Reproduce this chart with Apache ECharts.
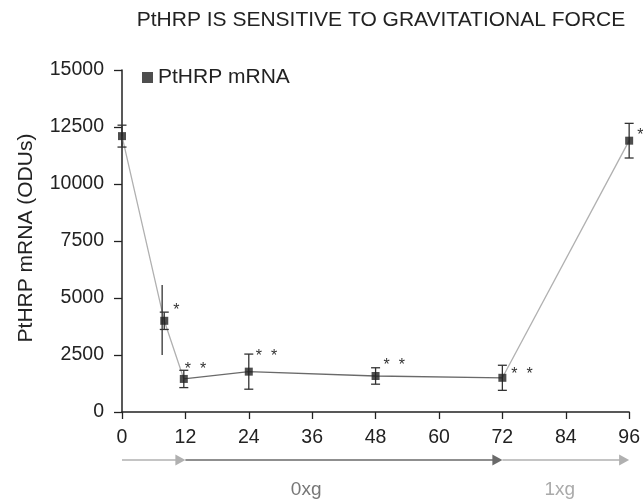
<!DOCTYPE html>
<html><head><meta charset="utf-8">
<script src="https://cdn.jsdelivr.net/npm/echarts@6/dist/echarts.min.js"></script>
<style>html,body{margin:0;padding:0;background:#fff}#c{width:643px;height:504px}</style>
</head><body><div id="c"></div>
<script>
// ---- data ----
var hours  = [0, 8, 11.7, 24, 48, 72, 96];
var values = [12100, 4000, 1450, 1770, 1580, 1500, 11900];
var errors = [480, 380, 380, 770, 360, 550, 760];
var stars  = ['', '*', '*  *', '*  *', '*  *', '*  *', '*'];
var extraBar = [7.6, 2500, 5570]; // hour, low, high (uncapped bar)
var xTicks = [0, 12, 24, 36, 48, 60, 72, 84, 96];
var yTicks = [0, 2500, 5000, 7500, 10000, 12500, 15000];
var phaseSegments = [[0, 12, 'light'], [12, 72, 'dark'], [72, 96, 'light']];
var phaseLabels = [[36, '0xg', 'dark'], [84, '1xg', 'light']];
var lineSegments = [[0, 2, 'light'], [2, 5, 'dark'], [5, 6, 'light']];

// ---- styling ----
var COL = {light: '#b0b0b0', dark: '#6a6a6a'};
var starOffsets = [[0,0],[9,-10],[1,-9],[7,-15],[8,-10],[9,-3],[8,-5]];
var FONT = 'Liberation Sans, Arial, sans-serif';

var pts = hours.map(function (h, i) { return [h, values[i]]; });

var series = [];
lineSegments.forEach(function (s) {
  series.push({
    type: 'line', data: pts.slice(s[0], s[1] + 1), symbol: 'none', silent: true,
    lineStyle: {color: COL[s[2]], width: 1.3}, z: 2
  });
});
series.push({
  type: 'custom', z: 3, silent: true,
  data: hours.map(function (h, i) { return [h, values[i] - errors[i], values[i] + errors[i]]; }),
  renderItem: function (params, api) {
    var lo = api.coord([api.value(0), api.value(1)]);
    var hi = api.coord([api.value(0), api.value(2)]);
    var w = 4.5, st = {stroke: '#333', lineWidth: 1.3};
    return {type: 'group', children: [
      {type: 'line', shape: {x1: lo[0], y1: lo[1], x2: hi[0], y2: hi[1]}, style: st},
      {type: 'line', shape: {x1: lo[0] - w, y1: lo[1], x2: lo[0] + w, y2: lo[1]}, style: st},
      {type: 'line', shape: {x1: hi[0] - w, y1: hi[1], x2: hi[0] + w, y2: hi[1]}, style: st}
    ]};
  }
});
series.push({
  type: 'custom', z: 3, silent: true, data: [extraBar],
  renderItem: function (params, api) {
    var lo = api.coord([api.value(0), api.value(1)]);
    var hi = api.coord([api.value(0), api.value(2)]);
    return {type: 'line', shape: {x1: lo[0], y1: lo[1], x2: hi[0], y2: hi[1]}, style: {stroke: '#333', lineWidth: 1.3}};
  }
});
series.push({
  name: 'PtHRP mRNA', type: 'scatter', symbol: 'rect', symbolSize: 8, z: 4,
  itemStyle: {color: '#222'}, data: pts
});
// significance asterisks
series.push({
  type: 'custom', z: 5, silent: true,
  data: pts.map(function (p, i) { return [p[0], p[1], i]; }),
  renderItem: function (params, api) {
    var i = api.value(2);
    if (!stars[i]) return null;
    var c = api.coord([api.value(0), api.value(1)]);
    var o = starOffsets[i];
    return {type: 'text', x: c[0] + o[0], y: c[1] + o[1],
      style: {text: stars[i], fill: '#333', font: '16px ' + FONT, textAlign: 'left', textVerticalAlign: 'middle'}};
  }
});

var chart = echarts.init(document.getElementById('c'), null, {renderer: 'canvas'});
var option = {
  animation: false,
  textStyle: {fontFamily: FONT},
  title: {text: 'PtHRP IS SENSITIVE TO GRAVITATIONAL FORCE', left: 376, top: 5, textAlign: 'center',
    textStyle: {fontSize: 21, fontWeight: 'normal', color: '#222', fontFamily: FONT}},
  legend: {data: [{name: 'PtHRP mRNA', icon: 'rect'}], left: 142, top: 67, itemWidth: 11, itemHeight: 11, padding: 0,
    textStyle: {fontSize: 21, color: '#222', fontFamily: FONT}},
  grid: {left: 122, right: 10, top: 70, bottom: 92, containLabel: false},
  xAxis: {type: 'value', min: xTicks[0], max: xTicks[xTicks.length - 1], interval: 12,
    axisLine: {lineStyle: {color: '#222', width: 1.5}},
    axisTick: {show: true, length: 7, lineStyle: {color: '#222', width: 1.3}},
    axisLabel: {fontSize: 19.5, color: '#222', margin: 16, fontFamily: FONT, formatter: function (v) { return String(v); }},
    splitLine: {show: false}},
  yAxis: {type: 'value', min: yTicks[0], max: yTicks[yTicks.length - 1], interval: 2500,
    axisLine: {show: true, lineStyle: {color: '#222', width: 1.5}},
    axisTick: {show: true, length: 8, lineStyle: {color: '#222', width: 1.3}},
    axisLabel: {fontSize: 19.5, color: '#222', margin: 18, fontFamily: FONT, formatter: function (v) { return String(v); }},
    splitLine: {show: false}},
  series: series
};
chart.setOption(option);

// phase arrows and labels below the axis, positioned through the x axis scale
var g = [];
var ay = 460;
phaseSegments.forEach(function (s) {
  var x1 = chart.convertToPixel({xAxisIndex: 0}, s[0]);
  var x2 = chart.convertToPixel({xAxisIndex: 0}, s[1]);
  var c = COL[s[2]];
  g.push({type: 'line', shape: {x1: x1, y1: ay, x2: x2 - 8, y2: ay}, style: {stroke: c, lineWidth: 1.5}});
  g.push({type: 'polygon', shape: {points: [[x2 - 10, ay - 5.5], [x2, ay], [x2 - 10, ay + 5.5]]}, style: {fill: c}});
});
phaseLabels.forEach(function (p) {
  var x = chart.convertToPixel({xAxisIndex: 0}, p[0]);
  g.push({type: 'text', x: x - 6, y: 490, style: {text: p[1], fill: p[2] === 'dark' ? '#777' : '#aaa',
    font: '19px ' + FONT, textAlign: 'center', textVerticalAlign: 'middle'}});
});
g.push({type: 'text', x: 26, y: 238, rotation: Math.PI / 2,
  style: {text: 'PtHRP mRNA (ODUs)', fill: '#222', font: '21px ' + FONT, textAlign: 'center', textVerticalAlign: 'middle'}});
chart.setOption({graphic: g});
</script></body></html>
